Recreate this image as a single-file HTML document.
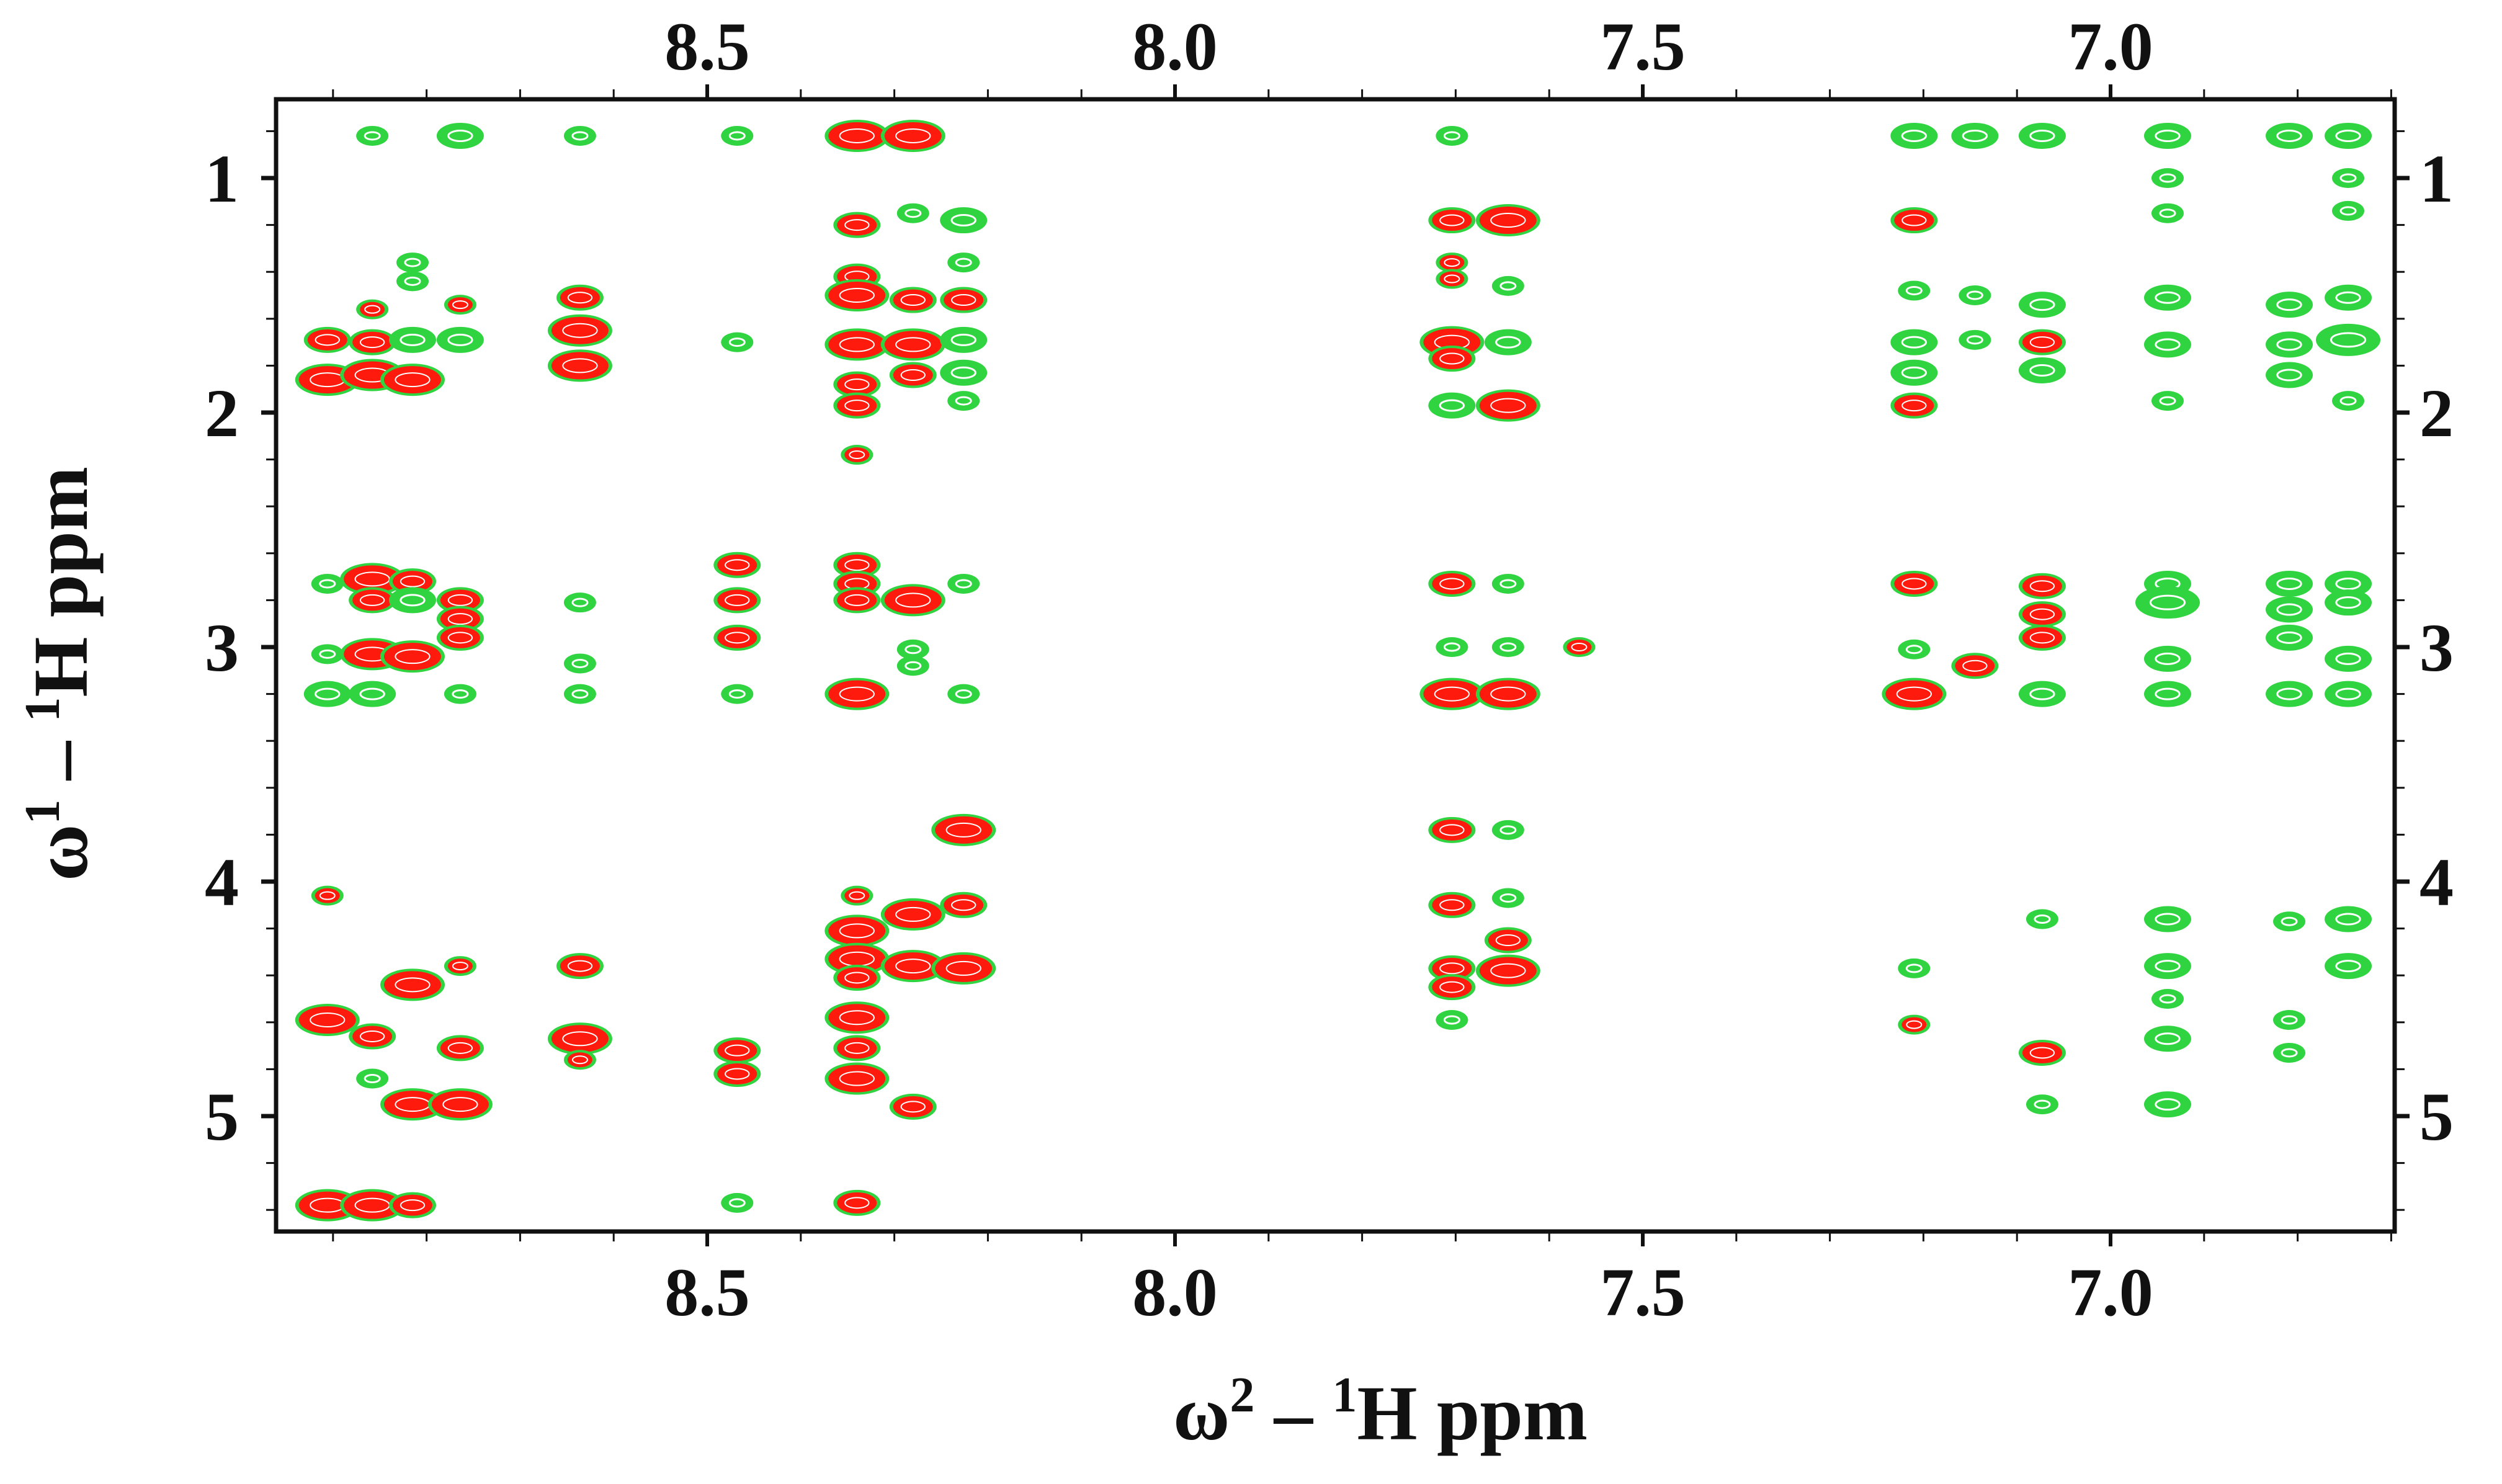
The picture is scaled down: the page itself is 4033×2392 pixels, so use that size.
<!DOCTYPE html>
<html><head><meta charset="utf-8"><style>
html,body{margin:0;padding:0;background:#fff;}
svg{display:block;}
text{font-family:"Liberation Serif",serif;font-weight:bold;fill:#111;}
</style></head><body>
<svg id="chart" width="4033" height="2392" viewBox="0 0 4033 2392" xmlns="http://www.w3.org/2000/svg">
<g id="peaks"></g>
<g id="axes"></g>
<rect x="445" y="160" width="3415" height="1825" fill="none" stroke="#111" stroke-width="7"/>
<text x="2225" y="2320" font-size="125" text-anchor="middle">ω<tspan font-size="80" dy="-45">2</tspan><tspan dy="45"> – </tspan><tspan font-size="80" dy="-45">1</tspan><tspan dy="45">H ppm</tspan></text>
<text transform="translate(140,1086) rotate(-90)" font-size="125" text-anchor="middle">ω<tspan font-size="80" dy="-45">1</tspan><tspan dy="45"> – </tspan><tspan font-size="80" dy="-45">1</tspan><tspan dy="45">H ppm</tspan></text>
</svg>
<script>
const xTickLabels=["8.5","8.0","7.5","7.0"];
const xTickValues=[8.5,8.0,7.5,7.0];
const yTickLabels=["1","2","3","4","5"];
const yTickValues=[1,2,3,4,5];
// peak positions (ppm), type 0 = green only, 1 = red overlay; intensity 1..3
const peakX=[
8.906,8.906,8.906,8.906,8.906,8.906,8.906,8.906,
8.858,8.858,8.858,8.858,8.858,8.858,8.858,8.858,8.858,8.858,8.858,
8.815,8.815,8.815,8.815,8.815,8.815,8.815,8.815,8.815,8.815,
8.764,8.764,8.764,8.764,8.764,8.764,8.764,8.764,8.764,8.764,
8.636,8.636,8.636,8.636,8.636,8.636,8.636,8.636,8.636,8.636,
8.468,8.468,8.468,8.468,8.468,8.468,8.468,8.468,8.468,
8.34,8.34,8.34,8.34,8.34,8.34,8.34,8.34,8.34,8.34,8.34,8.34,8.34,8.34,8.34,8.34,8.34,8.34,8.34,8.34,
8.28,8.28,8.28,8.28,8.28,8.28,8.28,8.28,8.28,8.28,8.28,
8.226,8.226,8.226,8.226,8.226,8.226,8.226,8.226,8.226,8.226,8.226,
7.704,7.704,7.704,7.704,7.704,7.704,7.704,7.704,7.704,7.704,7.704,7.704,7.704,7.704,7.704,
7.644,7.644,7.644,7.644,7.644,7.644,7.644,7.644,7.644,7.644,7.644,
7.568,
7.21,7.21,7.21,7.21,7.21,7.21,7.21,7.21,7.21,7.21,7.21,
7.145,7.145,7.145,7.145,
7.073,7.073,7.073,7.073,7.073,7.073,7.073,7.073,7.073,7.073,7.073,
6.939,6.939,6.939,6.939,6.939,6.939,6.939,6.939,6.939,6.939,6.939,6.939,6.939,6.939,6.939,
6.809,6.809,6.809,6.809,6.809,6.809,6.809,6.809,6.809,6.809,6.809,
6.746,6.746,6.746,6.746,6.746,6.746,6.746,6.746,6.746,6.746,6.746,6.746];
const peakY=[
1.69,1.86,2.73,3.03,3.20,4.06,4.59,5.38,
0.82,1.56,1.70,1.84,2.71,2.80,3.03,3.20,4.66,4.84,5.38,
1.36,1.44,1.69,1.86,2.72,2.80,3.04,4.44,4.95,5.38,
0.82,1.54,1.69,2.80,2.88,2.96,3.20,4.36,4.71,4.95,
0.82,1.51,1.65,1.80,2.81,3.07,3.20,4.36,4.67,4.76,
0.82,1.70,2.65,2.80,2.96,3.20,4.72,4.82,5.37,
0.82,1.20,1.42,1.50,1.71,1.88,1.97,2.18,2.65,2.73,2.80,3.20,4.06,4.21,4.33,4.41,4.58,4.71,4.84,5.37,
0.82,1.15,1.52,1.71,2.80,3.01,3.08,4.14,4.36,4.96,1.84,
1.18,1.36,1.52,1.69,1.83,1.95,2.73,3.20,3.78,4.10,4.37,
0.82,1.18,1.36,1.43,1.70,1.77,1.97,2.73,3.00,3.20,3.78,4.10,4.37,4.45,4.59,
1.18,1.46,1.70,1.97,2.73,3.00,3.20,3.78,4.07,4.25,4.38,
3.00,
0.82,1.18,1.48,1.70,1.83,1.97,2.73,3.01,3.20,4.37,4.61,
0.82,1.50,1.69,3.08,
0.82,1.54,1.70,1.82,2.74,2.86,2.96,3.20,4.16,4.73,4.95,
0.82,1.00,1.15,1.51,1.71,1.95,2.73,2.81,3.05,3.20,4.16,4.36,4.50,4.67,4.95,
0.82,1.54,1.71,1.84,2.73,2.84,2.96,3.20,4.17,4.59,4.73,
0.82,1.00,1.14,1.51,1.69,1.95,2.73,2.81,3.05,3.20,4.16,4.36];
const peakType=[
1,1,0,0,0,1,1,1,
0,1,1,1,1,1,1,0,1,0,1,
0,0,0,1,1,0,1,1,1,1,
0,1,0,1,1,1,0,1,1,1,
0,1,1,1,0,0,0,1,1,1,
0,0,1,1,1,0,1,1,0,
1,1,1,1,1,1,1,1,1,1,1,1,1,1,1,1,1,1,1,1,
1,0,1,1,1,0,0,1,1,1,1,
0,0,1,0,0,0,0,0,1,1,1,
0,1,1,1,1,1,0,1,0,1,1,1,1,1,0,
1,0,0,1,0,0,1,0,0,1,1,
1,
0,1,0,0,0,1,1,0,1,0,1,
0,0,0,1,
0,0,1,0,1,1,1,0,0,1,0,
0,0,0,0,0,0,0,0,0,0,0,0,0,0,0,
0,0,0,0,0,0,0,0,0,0,0,
0,0,0,0,0,0,0,0,0,0,0,0];
const peakInt=[
2,3,1,1,2,1,3,3,
1,1,2,3,3,2,3,2,2,1,3,
1,1,2,3,2,2,3,3,3,2,
2,1,2,2,2,2,1,1,2,3,
1,2,3,3,1,1,1,2,3,1,
1,1,2,2,2,1,2,2,1,
3,2,2,3,3,2,2,1,2,2,2,3,1,3,3,2,3,2,3,2,
3,1,2,3,3,1,1,3,3,2,2,
2,1,2,2,2,1,1,1,3,2,3,
1,2,1,1,3,2,2,2,1,3,2,2,2,2,1,
3,1,2,3,1,1,3,1,1,2,3,
1,
2,2,1,2,2,2,2,1,3,1,1,
2,1,1,2,
2,2,2,2,2,2,2,2,1,2,1,
2,1,1,2,2,1,2,3,2,2,2,2,1,2,2,
2,2,2,2,2,2,2,2,1,1,1,
2,1,1,2,3,1,2,2,2,2,2,2];

const NS="http://www.w3.org/2000/svg";
function xScale(p){return 1140+(8.5-p)*1508;}
function yScale(p){return 287+(p-1)*378;}
function mk(tag,attrs,parent){const e=document.createElementNS(NS,tag);for(const k in attrs)e.setAttribute(k,attrs[k]);parent.appendChild(e);return e;}

const axes=document.getElementById('axes');
for(let i=0;i<=23;i++){
  const p=8.9-i*0.1; if(p<6.7)break;
  const x=xScale(p); const major=Math.abs(p*2-Math.round(p*2))<1e-6;
  const L=major?24:16, w=major?6:3;
  const t1=mk('line',{x1:x,x2:x,y1:160,y2:160-L,stroke:'#111','stroke-width':w},axes);
  
  
  const t2=mk('line',{x1:x,x2:x,y1:1985,y2:1985+L,stroke:'#111','stroke-width':w},axes);
  
  
}
xTickValues.forEach((v,i)=>{
  const a=mk('text',{x:xScale(v),y:112,'font-size':110,'text-anchor':'middle'},axes);a.textContent=xTickLabels[i];
  
  
  const b=mk('text',{x:xScale(v),y:2120,'font-size':110,'text-anchor':'middle'},axes);b.textContent=xTickLabels[i];
  
  
});
for(let i=0;i<=24;i++){
  const p=0.8+i*0.2; if(p>5.5)break;
  const y=yScale(p); const major=Math.abs(p-Math.round(p))<1e-6;
  const L=major?24:16,w=major?7:3;
  const t1=mk('line',{x1:445,x2:445-L,y1:y,y2:y,stroke:'#111','stroke-width':w},axes);
  
  
  const t2=mk('line',{x1:3860,x2:3860+L,y1:y,y2:y,stroke:'#111','stroke-width':w},axes);
  
  
}
yTickValues.forEach((v,i)=>{
  const a=mk('text',{x:385,y:yScale(v)+38,'font-size':110,'text-anchor':'end'},axes);a.textContent=yTickLabels[i];
  
  
  const b=mk('text',{x:3900,y:yScale(v)+38,'font-size':110,'text-anchor':'start'},axes);b.textContent=yTickLabels[i];
  
  
});

const pk=document.getElementById('peaks');
const RX=[0,20,32,46], RY=[0,12,17,22];
const G='#2fd440', R='#ff1a0e';
for(let i=0;i<peakX.length;i++){
  const cx=xScale(peakX[i]), cy=yScale(peakY[i]);
  const rx=RX[peakInt[i]], ry=RY[peakInt[i]];
  const g=mk('g',{},pk);
  
  
  mk('ellipse',{cx:cx,cy:cy,rx:rx+6,ry:ry+4,fill:G},g);
  if(peakType[i]===1){
    mk('ellipse',{cx:cx,cy:cy,rx:rx,ry:ry,fill:R},g);
    mk('ellipse',{cx:cx,cy:cy,rx:rx*0.6,ry:ry*0.5,fill:'none',stroke:'#fff','stroke-width':2},g);
  }else{
    mk('ellipse',{cx:cx,cy:cy,rx:rx*0.6,ry:ry*0.5,fill:'none',stroke:'#fff','stroke-width':3},g);
  }
}
</script>
</body></html>
